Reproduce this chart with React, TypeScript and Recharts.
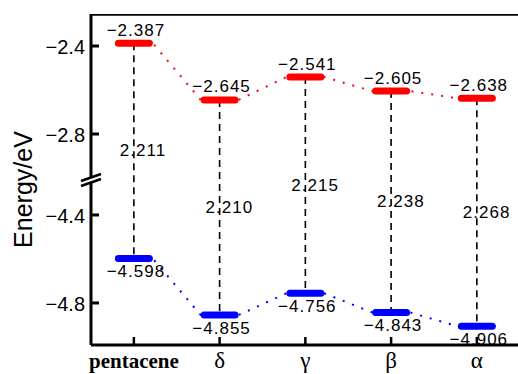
import { ComposedChart, XAxis, YAxis, Line, Scatter } from 'recharts';

const phases = ['pentacene', 'δ', 'γ', 'β', 'α'];
const lumo = [-2.387, -2.645, -2.541, -2.605, -2.638];
const homo = [-4.598, -4.855, -4.756, -4.843, -4.906];
const gaps = [2.211, 2.21, 2.215, 2.238, 2.268];
const upperTicks = [-2.4, -2.8];
const lowerTicks = [-4.4, -4.8];

// broken y axis: the HOMO part is moved up by SHIFT so it sits right under the break
const SHIFT = 1.232;
const BREAK = -3.009;
const Y_TOP = -2.2545;
const Y_BOTTOM = -3.759;
const HALF = 0.22; // half width of a level bar, in category units

const xs = phases.map((_, i) => i + 1);
const lumoPts = xs.map((x, i) => ({ x, y: lumo[i], v: lumo[i] }));
const homoPts = xs.map((x, i) => ({ x, y: homo[i] + SHIFT, v: homo[i] }));
const gapPts = xs.map((x, i) => ({ x, y: (lumo[i] + homo[i] + SHIFT) / 2, v: gaps[i] }));
const lumoPath = lumoPts.flatMap((p) => [{ x: p.x - HALF, y: p.y }, { x: p.x + HALF, y: p.y }]);
const homoPath = homoPts.flatMap((p) => [{ x: p.x - HALF, y: p.y }, { x: p.x + HALF, y: p.y }]);

const numFont = '"Liberation Sans", Arial, sans-serif';
const fmt = (v: number, d: number) => (v < 0 ? '\u2212' : '') + Math.abs(v).toFixed(d);

function levelShape(color: string, above: boolean) {
  return (props: any) => {
    const { cx, cy, payload } = props;
    return (
      <g>
        <rect x={cx - 19} y={cy - 3.5} width={38} height={7} rx={3.5} fill={color} />
        <text
          x={cx + 2}
          y={above ? cy - 13 : cy + 13}
          textAnchor="middle"
          dominantBaseline="central"
          fontFamily={numFont}
          fontSize={17}
          letterSpacing={1}
          fill="#000"
        >
          {fmt(payload.v, 3)}
        </text>
      </g>
    );
  };
}

const gapShape = (props: any) => {
  const { cx, cy, payload } = props;
  return (
    <text x={cx - 14} y={cy} dominantBaseline="central" fontFamily={numFont} fontSize={17} letterSpacing={1} fill="#000">
      {payload.v.toFixed(3)}
    </text>
  );
};

const YTick = (props: any) => {
  const { x, y, payload } = props;
  const v = payload.value;
  if (Math.abs(v - BREAK) < 1e-6) {
    return (
      <g>
        <polygon points={`${x - 10},${y + 1} ${x + 10},${y - 6} ${x + 10},${y - 1} ${x - 10},${y + 6}`} fill="#fff" />
        <line x1={x - 10} y1={y + 1} x2={x + 10} y2={y - 6} stroke="#000" strokeWidth={2.5} />
        <line x1={x - 10} y1={y + 6} x2={x + 10} y2={y - 1} stroke="#000" strokeWidth={2.5} />
      </g>
    );
  }
  const real = v > BREAK ? v : v - SHIFT;
  return (
    <g>
      <line x1={x} x2={x + 8} y1={y} y2={y} stroke="#000" strokeWidth={3} />
      <text x={x - 6} y={y + 1} textAnchor="end" dominantBaseline="central" fontFamily={numFont} fontSize={20} fill="#000">
        {fmt(real, 1)}
      </text>
    </g>
  );
};

const XTick = (props: any) => {
  const { x, y, payload } = props;
  const first = payload.value === 1;
  return (
    <g>
      <line x1={x} x2={x} y1={y} y2={y - 8} stroke="#000" strokeWidth={2.5} />
      <text
        x={x}
        y={y + 23}
        textAnchor="middle"
        fontFamily='"Liberation Serif", "Times New Roman", serif'
        fontWeight={first ? 'bold' : 'normal'}
        fontSize={first ? 21 : 23}
        fill="#000"
      >
        {phases[payload.value - 1]}
      </text>
    </g>
  );
};

const axisLabel = (props: any) => {
  const { viewBox } = props;
  const cx = 23;
  const cy = viewBox.y + viewBox.height / 2 + 10;
  return (
    <text
      x={cx}
      y={cy}
      transform={`rotate(-90 ${cx} ${cy})`}
      textAnchor="middle"
      dominantBaseline="central"
      fontFamily={numFont}
      fontSize={25}
      fill="#000"
    >
      Energy/eV
    </text>
  );
};

export default function App() {
  return (
    <div style={{ position: 'absolute', left: 0, top: 0, width: 518, height: 374, background: '#fff' }}>
      <ComposedChart width={518} height={374} margin={{ top: 14, right: 0, bottom: 0, left: 0 }}>
        <XAxis
          type="number"
          dataKey="x"
          domain={[0.5, 5.48]}
          ticks={xs}
          interval={0}
          allowDataOverflow
          height={29}
          tickSize={0}
          tickMargin={0}
          tickLine={false}
          axisLine={{ stroke: '#000', strokeWidth: 3 }}
          tick={XTick}
        />
        <YAxis
          type="number"
          dataKey="y"
          domain={[Y_BOTTOM, Y_TOP]}
          ticks={[...upperTicks, BREAK, ...lowerTicks.map((t) => t + SHIFT)]}
          interval={0}
          allowDataOverflow
          width={91}
          tickSize={0}
          tickMargin={0}
          tickLine={false}
          axisLine={{ stroke: '#000', strokeWidth: 3 }}
          tick={YTick}
          label={{ content: axisLabel }}
        />
        <Line
          data={[{ x: 0.5, y: Y_TOP }, { x: 5.48, y: Y_TOP }]}
          dataKey="y"
          stroke="#000"
          strokeWidth={3.5}
          dot={false}
          activeDot={false}
          isAnimationActive={false}
        />
        {xs.map((x, i) => (
          <Line
            key={'gap' + i}
            data={[{ x, y: lumo[i] }, { x, y: homo[i] + SHIFT }]}
            dataKey="y"
            stroke="#000"
            strokeWidth={1.6}
            strokeDasharray="7 5"
            dot={false}
            activeDot={false}
            isAnimationActive={false}
          />
        ))}
        <Line
          data={lumoPath}
          dataKey="y"
          stroke="#ff0000"
          strokeWidth={2}
          strokeDasharray="2 8"
          dot={false}
          activeDot={false}
          isAnimationActive={false}
        />
        <Line
          data={homoPath}
          dataKey="y"
          stroke="#0000ff"
          strokeWidth={2}
          strokeDasharray="2 8"
          dot={false}
          activeDot={false}
          isAnimationActive={false}
        />
        <Scatter data={lumoPts} dataKey="y" shape={levelShape('#ff0000', true)} isAnimationActive={false} />
        <Scatter data={homoPts} dataKey="y" shape={levelShape('#0000ff', false)} isAnimationActive={false} />
        <Scatter data={gapPts} dataKey="y" shape={gapShape} isAnimationActive={false} />
      </ComposedChart>
    </div>
  );
}
